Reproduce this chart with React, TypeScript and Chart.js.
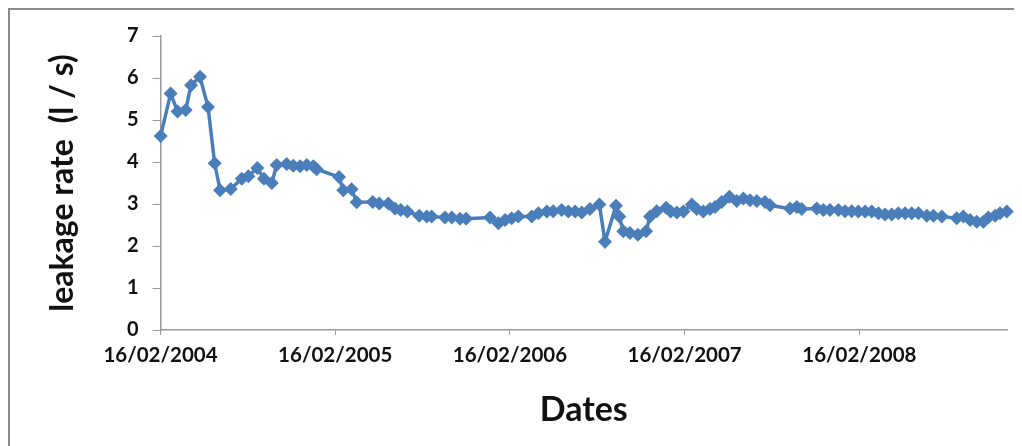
import React, { useEffect, useRef } from "react";
import { Chart, registerables } from "chart.js";

Chart.register(...registerables);

// Years elapsed since 16/02/2004
const yearsSinceStart: number[] = [
  0.001, 0.058, 0.098, 0.144, 0.175, 0.226, 0.272, 0.31, 0.341, 0.402,
  0.465, 0.503, 0.554, 0.592, 0.637, 0.665, 0.722, 0.76, 0.799, 0.837,
  0.875, 0.894, 1.022, 1.046, 1.094, 1.123, 1.215, 1.252, 1.304, 1.342,
  1.375, 1.413, 1.481, 1.524, 1.552, 1.628, 1.667, 1.714, 1.749, 1.886,
  1.934, 1.972, 2.01, 2.048, 2.125, 2.163, 2.211, 2.248, 2.296, 2.334,
  2.373, 2.411, 2.458, 2.512, 2.544, 2.607, 2.626, 2.649, 2.687, 2.732,
  2.779, 2.802, 2.84, 2.894, 2.92, 2.955, 2.993, 3.041, 3.069, 3.107,
  3.145, 3.174, 3.212, 3.256, 3.298, 3.336, 3.374, 3.413, 3.46, 3.489,
  3.603, 3.642, 3.67, 3.756, 3.794, 3.832, 3.88, 3.918, 3.956, 3.994,
  4.033, 4.071, 4.109, 4.147, 4.185, 4.223, 4.262, 4.3, 4.338, 4.386,
  4.424, 4.472, 4.557, 4.595, 4.634, 4.672, 4.71, 4.738, 4.777, 4.805,
  4.844,
];

// Leakage rate (l/s)
const leakageRate: number[] = [
  4.62, 5.63, 5.2, 5.24, 5.83, 6.03, 5.31, 3.97, 3.33, 3.36,
  3.6, 3.66, 3.86, 3.6, 3.5, 3.93, 3.95, 3.91, 3.9, 3.93,
  3.9, 3.83, 3.64, 3.33, 3.35, 3.04, 3.05, 3.01, 3.01, 2.89,
  2.86, 2.82, 2.72, 2.7, 2.7, 2.68, 2.68, 2.65, 2.65, 2.68,
  2.54, 2.62, 2.66, 2.7, 2.7, 2.78, 2.82, 2.83, 2.86, 2.82,
  2.82, 2.8, 2.88, 2.99, 2.1, 2.96, 2.7, 2.35, 2.31, 2.27,
  2.35, 2.7, 2.83, 2.91, 2.82, 2.8, 2.82, 2.99, 2.88, 2.82,
  2.88, 2.93, 3.05, 3.17, 3.07, 3.13, 3.09, 3.07, 3.05, 2.97,
  2.89, 2.93, 2.88, 2.89, 2.86, 2.86, 2.86, 2.83, 2.83, 2.82,
  2.82, 2.82, 2.78, 2.75, 2.75, 2.78, 2.78, 2.78, 2.78, 2.72,
  2.72, 2.7, 2.66, 2.7, 2.62, 2.58, 2.58, 2.68, 2.72, 2.78,
  2.82,
];

const xTickLabels: string[] = [
  "16/02/2004",
  "16/02/2005",
  "16/02/2006",
  "16/02/2007",
  "16/02/2008",
];
const xTickValues: number[] = [0, 1, 2, 3, 4];
const xAxisMax = 4.845;
const yTicks: number[] = [0, 1, 2, 3, 4, 5, 6, 7];
const yTitle = "leakage rate  (l / s)";
const xTitle = "Dates";

const FONT = "Lato";

const yTitlePlugin = {
  id: "yTitlePlugin",
  afterDraw(chart: any) {
    const { ctx, chartArea } = chart;
    ctx.save();
    ctx.translate(chartArea.left - 98, (chartArea.top + chartArea.bottom) / 2);
    ctx.rotate(-Math.PI / 2);
    ctx.font = `bold 32px ${FONT}`;
    ctx.fillStyle = "#111";
    ctx.textAlign = "center";
    ctx.textBaseline = "middle";
    ctx.fillText(yTitle, 0, 0);
    ctx.restore();
  },
};

export default function App() {
  const ref = useRef<HTMLCanvasElement | null>(null);

  useEffect(() => {
    if (!ref.current) return;
    const points = yearsSinceStart.map((x, i) => ({ x, y: leakageRate[i] }));
    const blue = "#4A7EBB";
    const chart = new Chart(ref.current, {
      type: "line",
      data: {
        datasets: [
          {
            data: points,
            borderColor: blue,
            backgroundColor: blue,
            borderWidth: 3.5,
            pointStyle: "rectRot",
            pointRadius: 7,
            pointBorderWidth: 0,
            pointBackgroundColor: blue,
            tension: 0,
            clip: false,
          },
        ],
      },
      plugins: [yTitlePlugin],
      options: {
        animation: false,
        responsive: false,
        layout: { padding: { left: 0, top: 22, right: 15, bottom: 0 } },
        plugins: {
          legend: { display: false },
          tooltip: { enabled: false },
        },
        scales: {
          x: {
            type: "linear",
            min: 0,
            max: xAxisMax,
            afterFit: (s: any) => {
              s.height = 116;
            },
            afterBuildTicks: (s: any) => {
              s.ticks = xTickValues.map((v) => ({ value: v }));
            },
            ticks: {
              callback: (v: any) => {
                const i = xTickValues.indexOf(Number(v));
                return i >= 0 ? xTickLabels[i] : "";
              },
              maxRotation: 0,
              autoSkip: false,
              padding: 8,
              color: "#111",
              font: { family: FONT, size: 20.5, weight: "bold" },
            },
            grid: {
              drawOnChartArea: false,
              drawTicks: true,
              tickLength: 5,
              color: "#9a9a9a",
              lineWidth: 1,
            },
            border: { color: "#9a9a9a", width: 1.5 },
            title: {
              display: true,
              text: xTitle,
              color: "#111",
              font: { family: FONT, size: 34, weight: "bold" },
              padding: 16,
            },
          },
          y: {
            min: 0,
            max: 7,
            afterFit: (s: any) => {
              s.width = 150.5;
            },
            afterBuildTicks: (s: any) => {
              s.ticks = yTicks.map((v) => ({ value: v }));
            },
            ticks: {
              padding: 14,
              color: "#111",
              font: { family: FONT, size: 20, weight: "bold" },
            },
            grid: {
              drawOnChartArea: false,
              drawTicks: true,
              tickLength: 8,
              color: "#9a9a9a",
              lineWidth: 1,
            },
            border: { color: "#9a9a9a", width: 1.5 },
            title: { display: false },
          },
        },
      },
    });
    return () => chart.destroy();
  }, []);

  return (
    <div
      style={{
        width: 1012,
        height: 436,
        borderLeft: "2px solid #8a8a8a",
        borderTop: "2px solid #8a8a8a",
        background: "#fff",
      }}
    >
      <canvas ref={ref} width={1012} height={436} style={{ display: "block" }} />
    </div>
  );
}
